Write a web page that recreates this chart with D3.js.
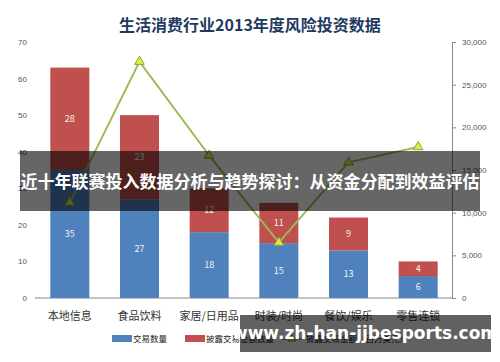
<!DOCTYPE html>
<html>
<head>
<meta charset="utf-8">
<script src="https://cdn.jsdelivr.net/npm/d3@7"></script>
<style>
  body { margin: 0; background: #fff; }
  svg { display: block; font-family: "Noto Sans CJK SC", "DejaVu Sans", sans-serif; }
</style>
</head>
<body>
<svg id="chart" width="500" height="362"></svg>
<script>
// 生活消费行业2013年度风险投资数据
const categories = ['本地信息', '食品饮料', '家居/日用品', '时装/时尚', '餐饮/娱乐', '零售连锁'];
const dealCount = [35, 27, 18, 15, 13, 6];
const disclosedCount = [28, 23, 12, 11, 9, 4];
const dealAmount = [11200, 27700, 16700, 6500, 15900, 17700];
const leftTicks = [0, 10, 20, 30, 40, 50, 60, 70];
const rightTicks = [0, 5000, 10000, 15000, 20000, 25000, 30000];
const seriesNames = ['交易数量', '披露交易金额数量', '披露交易金额（百万美元）'];

const svg = d3.select('#chart');

const x = d3.scaleBand()
  .domain(categories)
  .range([35, 453])
  .paddingInner(0.44)
  .paddingOuter(0.22);

const yLeft = d3.scaleLinear().domain([0, 70]).range([298, 42]);
const yRight = d3.scaleLinear().domain([0, 30000]).range([298, 42]);

// title
svg.append('text')
  .attr('x', 250)
  .attr('y', 31)
  .attr('text-anchor', 'middle')
  .attr('font-size', '16px')
  .attr('font-weight', 'bold')
  .attr('fill', '#1f3a5f')
  .text('生活消费行业2013年度风险投资数据');

// left axis labels
const gl = svg.append('g')
  .attr('transform', 'translate(27,0)')
  .call(d3.axisLeft(yLeft).tickValues(leftTicks).tickSize(0).tickPadding(0));
gl.select('.domain').remove();
gl.selectAll('text').attr('font-size', '8px').attr('fill', '#555');

// right axis
const gr = svg.append('g')
  .attr('transform', 'translate(452,0)')
  .call(d3.axisRight(yRight).tickValues(rightTicks).tickSize(4).tickPadding(6).tickFormat(d3.format(',')).tickSizeOuter(0));
gr.select('.domain').attr('stroke', '#888');
gr.selectAll('.tick line').attr('stroke', '#888');
gr.selectAll('text').attr('font-size', '8px').attr('fill', '#555');

// baseline
svg.append('line')
  .attr('x1', 35).attr('x2', 452)
  .attr('y1', yLeft(0)).attr('y2', yLeft(0))
  .attr('stroke', '#888');

// stacked bars
const stackData = categories.map((c, i) => ({ cat: c, a: dealCount[i], b: disclosedCount[i] }));

svg.selectAll('.bar-a')
  .data(stackData)
  .enter().append('rect')
  .attr('class', 'bar-a')
  .attr('x', d => x(d.cat))
  .attr('width', x.bandwidth())
  .attr('y', d => yLeft(d.a))
  .attr('height', d => yLeft(0) - yLeft(d.a))
  .attr('fill', '#4f81bd');

svg.selectAll('.bar-b')
  .data(stackData)
  .enter().append('rect')
  .attr('class', 'bar-b')
  .attr('x', d => x(d.cat))
  .attr('width', x.bandwidth())
  .attr('y', d => yLeft(d.a + d.b))
  .attr('height', d => yLeft(d.a) - yLeft(d.a + d.b))
  .attr('fill', '#c0504d');

svg.selectAll('.lab-a')
  .data(stackData)
  .enter().append('text')
  .attr('x', d => x(d.cat) + x.bandwidth() / 2)
  .attr('y', d => yLeft(d.a / 2) + 3)
  .attr('text-anchor', 'middle')
  .attr('font-size', '9px')
  .attr('fill', '#f2f2f2')
  .text(d => d.a);

svg.selectAll('.lab-b')
  .data(stackData)
  .enter().append('text')
  .attr('x', d => x(d.cat) + x.bandwidth() / 2)
  .attr('y', d => yLeft(d.a + d.b / 2) + 3)
  .attr('text-anchor', 'middle')
  .attr('font-size', '9px')
  .attr('fill', '#f2f2f2')
  .text(d => d.b);

// line on right axis
const cx = d => x(d) + x.bandwidth() / 2;
const line = d3.line()
  .x((d, i) => cx(categories[i]))
  .y(d => yRight(d));

svg.append('path')
  .datum(dealAmount)
  .attr('d', line)
  .attr('fill', 'none')
  .attr('stroke', '#9bbb59')
  .attr('stroke-width', 2);

const tri = d3.symbol().type(d3.symbolTriangle).size(40);
svg.selectAll('.mark')
  .data(dealAmount)
  .enter().append('path')
  .attr('d', tri)
  .attr('transform', (d, i) => `translate(${cx(categories[i])},${yRight(d)})`)
  .attr('fill', '#e4ea3c')
  .attr('stroke', '#8aa63a')
  .attr('stroke-width', 1);

// category labels
svg.selectAll('.cat')
  .data(categories)
  .enter().append('text')
  .attr('x', d => cx(d))
  .attr('y', 320)
  .attr('text-anchor', 'middle')
  .attr('font-size', '11px')
  .attr('fill', '#333')
  .text(d => d);

// legend
const lg = svg.append('g').attr('transform', 'translate(112,339)');
lg.append('rect').attr('x', 0).attr('y', -4).attr('width', 20).attr('height', 7).attr('fill', '#4f81bd');
lg.append('text').attr('x', 21).attr('y', 3).attr('font-size', '8.5px').attr('fill', '#222').text(seriesNames[0]);
lg.append('rect').attr('x', 73).attr('y', -4).attr('width', 20).attr('height', 7).attr('fill', '#c0504d');
lg.append('text').attr('x', 94).attr('y', 3).attr('font-size', '8.5px').attr('fill', '#222').text(seriesNames[1]);
lg.append('line').attr('x1', 170).attr('x2', 190).attr('y1', 0).attr('y2', 0).attr('stroke', '#9bbb59').attr('stroke-width', 2);
lg.append('path').attr('d', d3.symbol().type(d3.symbolTriangle).size(24))
  .attr('transform', 'translate(180,0)').attr('fill', '#e4ea3c').attr('stroke', '#8aa63a');
lg.append('text').attr('x', 194).attr('y', 3).attr('font-size', '8.5px').attr('fill', '#222').text(seriesNames[2]);

// overlay banner
svg.append('rect')
  .attr('x', 20).attr('y', 151).attr('width', 460).attr('height', 60)
  .attr('fill', 'rgba(0,0,0,0.6)');
svg.append('text')
  .attr('x', 250).attr('y', 188)
  .attr('text-anchor', 'middle')
  .attr('font-size', '17px')
  .attr('font-weight', 'bold')
  .attr('fill', '#fff')
  .text('近十年联赛投入数据分析与趋势探讨：从资金分配到效益评估');

// watermark
svg.append('rect')
  .attr('x', 240).attr('y', 315).attr('width', 251).attr('height', 37)
  .attr('fill', 'rgba(0,0,0,0.62)');
svg.append('text')
  .attr('x', 365).attr('y', 339)
  .attr('text-anchor', 'middle')
  .attr('font-size', '17px')
  .attr('font-weight', 'bold')
  .attr('font-family', '"DejaVu Sans", sans-serif')
  .attr('fill', '#fff')
  .text('www.zh-han-jjbesports.com');
</script>
</body>
</html>
